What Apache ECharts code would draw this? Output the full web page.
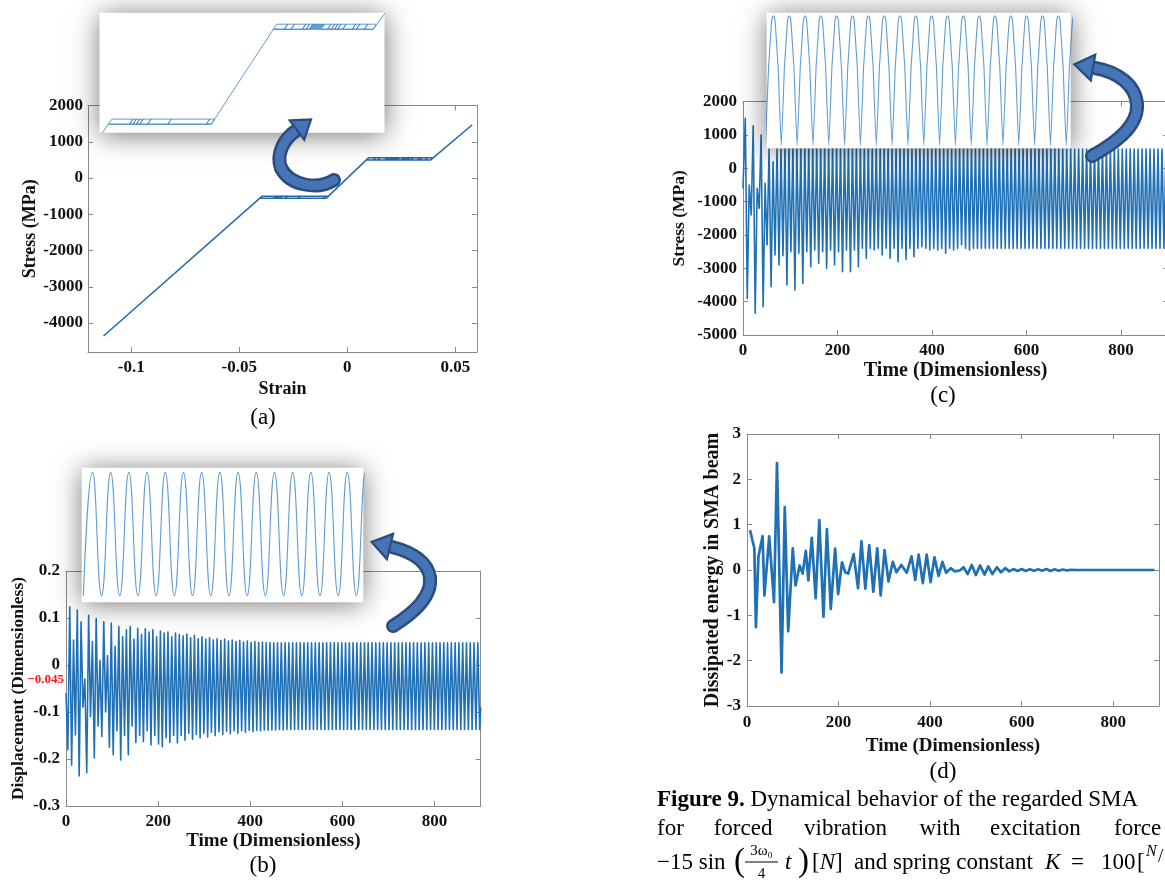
<!DOCTYPE html>
<html>
<head>
<meta charset="utf-8">
<title>Figure 9</title>
<script src="https://cdn.jsdelivr.net/npm/echarts@6/dist/echarts.min.js"></script>
<style>
  html, body { margin: 0; padding: 0; background: #fff; }
  #chart { width: 1165px; height: 881px; }
</style>
</head>
<body>
<div id="chart"></div>
<script>
// ---------------- (a) stress–strain hysteresis ----------------
const loadingStart = [-0.1128, -4360];
const loadingEnd = [0.0578, 1470];
const lowerPlateauStress = [-556, -500];      // forward / reverse transformation levels (compression)
const upperPlateauStress = [500, 556];        // reverse / forward transformation levels (tension)
const lowerPlateauStrain = [-0.0404, -0.0097];
const upperPlateauStrain = [0.0088, 0.0386];
const plateauShift = 0.0010;                  // strain offset between the two plateau levels
const lowerLoopStrain = [-0.0341, -0.0331, -0.0321, -0.0311, -0.0287, -0.0227, -0.0112];
const upperLoopStrain = [0.0121, 0.0141, 0.0175, 0.0186, 0.0196, 0.0201, 0.0206, 0.0211, 0.0216,
  0.0221, 0.0226, 0.0231, 0.0250, 0.0261, 0.0271, 0.0280, 0.0295, 0.0324, 0.0336, 0.0360];
const strainTicks = [-0.1, -0.05, 0, 0.05];
const stressTicksA = [-4000, -3000, -2000, -1000, 0, 1000, 2000];

// ---------------- (b) displacement history ----------------
const dispStart = [0, -0.06];
const dispEnd = [900, -0.09];
const dispFirstTrough = 4.0;
const dispFirstPeak = 8.1;
const dispPeriod = 8.2;
const dispTroughs = [
  -0.180, -0.213, -0.149, -0.236, -0.090, -0.229, -0.110, -0.198, -0.130, -0.152,
  -0.100, -0.175, -0.191, -0.140, -0.202, -0.150, -0.191, -0.130, -0.165, -0.150,
  -0.163, -0.140, -0.170, -0.150, -0.168, -0.174, -0.155, -0.165, -0.150, -0.166,
  -0.150, -0.160, -0.145, -0.158, -0.148, -0.155, -0.145, -0.153, -0.143, -0.150,
  -0.142, -0.148, -0.141, -0.146, -0.140, -0.145, -0.140, -0.143, -0.139, -0.142,
  -0.139, -0.140, -0.138, -0.139, -0.138, -0.138, -0.137, -0.138, -0.137, -0.137,
  -0.137, -0.137, -0.137, -0.137, -0.137, -0.137, -0.137, -0.137, -0.137, -0.137,
  -0.137, -0.137, -0.137, -0.137, -0.137, -0.137, -0.137, -0.137, -0.137, -0.137,
  -0.137, -0.137, -0.137, -0.137, -0.137, -0.137, -0.137, -0.137, -0.137, -0.137,
  -0.137, -0.137, -0.137, -0.137, -0.137, -0.137, -0.137, -0.137, -0.137, -0.137,
  -0.137, -0.137, -0.137, -0.137, -0.137, -0.137, -0.137, -0.137, -0.137, -0.137
];
const dispPeaks = [
  0.124, 0.053, 0.117, 0.092, -0.030, 0.106, 0.050, 0.099, 0.010, 0.092,
  0.020, 0.089, 0.040, 0.082, 0.060, 0.075, 0.082, 0.055, 0.078, 0.065,
  0.077, 0.070, 0.075, 0.060, 0.072, 0.068, 0.070, 0.060, 0.068, 0.065,
  0.062, 0.066, 0.058, 0.063, 0.056, 0.060, 0.055, 0.058, 0.053, 0.056,
  0.052, 0.055, 0.051, 0.053, 0.050, 0.052, 0.049, 0.051, 0.048, 0.050,
  0.048, 0.049, 0.047, 0.048, 0.047, 0.047, 0.047, 0.047, 0.047, 0.047,
  0.047, 0.047, 0.047, 0.047, 0.047, 0.047, 0.047, 0.047, 0.047, 0.047,
  0.047, 0.047, 0.047, 0.047, 0.047, 0.047, 0.047, 0.047, 0.047, 0.047,
  0.047, 0.047, 0.047, 0.047, 0.047, 0.047, 0.047, 0.047, 0.047, 0.047,
  0.047, 0.047, 0.047, 0.047, 0.047, 0.047, 0.047, 0.047, 0.047, 0.047,
  0.047, 0.047, 0.047, 0.047, 0.047, 0.047, 0.047, 0.047, 0.047
];
const dispMeanLevel = -0.045;
const dispTicks = [-0.3, -0.2, -0.1, 0, 0.1, 0.2];
// zoomed steady-state window (one entry per half cycle)
const insetDispTroughs = [-0.137, -0.137, -0.137, -0.137, -0.137, -0.137, -0.137, -0.137,
  -0.137, -0.137, -0.137, -0.137, -0.137, -0.137, -0.137, -0.137, -0.137];
const insetDispPeaks = [0.047, 0.047, 0.047, 0.047, 0.047, 0.047, 0.047, 0.047,
  0.047, 0.047, 0.047, 0.047, 0.047, 0.047, 0.047, 0.047];

// ---------------- (c) stress history ----------------
const stressStart = [0, -600];
const stressFirstPeak = 4.8;
const stressFirstTrough = 9.0;
const stressPeriod = 8.4;
const stressPeaks = [
  1500, -500, 1280, -600, 1000, -450, 580, 200, 580, 580,
  580, 580, 580, 580, 580, 580, 580, 580, 580, 580,
  580, 580, 580, 580, 580, 580, 580, 580, 580, 580,
  580, 580, 580, 580, 580, 580, 580, 580, 580, 580,
  580, 580, 580, 580, 580, 580, 580, 580, 580, 580,
  580, 580, 580, 580, 580, 580, 580, 580, 580, 580,
  580, 580, 580, 580, 580, 580, 580, 580, 580, 580,
  580, 580, 580, 580, 580, 580, 580, 580, 580, 580,
  580, 580, 580, 580, 580, 580, 580, 580, 580, 580,
  580, 580, 580, 580, 580, 580, 580, 580, 580, 580,
  580, 580, 580, 580, 580, 580, 580
];
const stressTroughs = [
  -3900, -1400, -4350, -1200, -4150, -2300, -3550, -2600, -2900, -2620,
  -3500, -2500, -3650, -2550, -3450, -2500, -2950, -2450, -2850, -2500,
  -3000, -2450, -2900, -2500, -3100, -2450, -3100, -2450, -2950, -2400,
  -2700, -2400, -2450, -2400, -2600, -2400, -2700, -2400, -2800, -2400,
  -2730, -2400, -2650, -2400, -2350, -2400, -2450, -2400, -2450, -2400,
  -2550, -2400, -2450, -2400, -2300, -2400, -2450, -2400, -2400, -2400,
  -2400, -2400, -2400, -2400, -2400, -2400, -2400, -2400, -2400, -2400,
  -2400, -2400, -2400, -2400, -2400, -2400, -2400, -2400, -2400, -2400,
  -2400, -2400, -2400, -2400, -2400, -2400, -2400, -2400, -2400, -2400,
  -2400, -2400, -2400, -2400, -2400, -2400, -2400, -2400, -2400, -2400,
  -2400, -2400, -2400, -2400, -2400, -2400, -2400
];
const stressTicksC = [-5000, -4000, -3000, -2000, -1000, 0, 1000, 2000];
// one steady-state stress cycle (phase within the cycle, stress) for the zoomed window
const stressCyclePhase = [0, 0.20, 0.23, 0.38, 0.45, 0.50, 0.55, 0.62, 0.77, 0.80];
const stressCycleValue = [-2400, -580, -430, 420, 575, 585, 575, 420, -430, -580];
const stressInsetCycles = 20;

// ---------------- (d) dissipated energy ----------------
const energyTime = [6.5, 16, 19.5, 25, 34, 38, 48.5, 59, 65.5, 75.5, 82.5, 90, 100, 106, 115, 121.5,
  128.5, 134, 141.5, 150, 158, 167, 174.5, 183, 192.5, 199, 207.5, 214.5, 221, 233, 242.5, 250,
  258.5, 267, 276, 284.5, 292, 300.5, 309, 318.5, 326.5, 337, 349, 359.5, 367.5, 375, 384, 392.5,
  401, 409.5, 418.5, 427, 435, 445, 454, 465, 473, 482, 491, 500, 509, 519, 527, 536, 546, 555,
  564, 573, 582, 591, 600, 609, 618, 627, 636, 645, 654, 663, 672, 681, 690, 699, 708, 720, 890];
const energyValue = [0.88, 0.48, -1.26, 0.30, 0.75, -0.56, 0.74, -0.71, 2.36, -2.26, 1.39, -1.35,
  0.48, -0.34, 0.10, -0.08, 0.42, -0.23, 0.71, -0.62, 1.10, -1.03, 0.90, -0.86, 0.47, -0.53, 0.17,
  -0.05, -0.08, 0.35, -0.40, 0.63, -0.41, 0.55, -0.48, 0.48, -0.56, 0.44, -0.25, 0.18, -0.05, 0.11,
  -0.06, 0.30, -0.22, 0.34, -0.29, 0.34, -0.27, 0.28, -0.13, 0.18, -0.06, 0.04, -0.03, -0.01, 0.06,
  -0.09, 0.11, -0.11, 0.10, -0.10, 0.08, -0.09, 0.06, -0.05, 0.04, -0.03, 0.02, -0.02, 0.02, -0.02,
  0.015, -0.015, 0.015, -0.015, 0.02, -0.02, 0.015, -0.015, 0.01, -0.01, 0.005, 0, 0];
const energyTicks = [-3, -2, -1, 0, 1, 2, 3];
const timeTicks = [0, 200, 400, 600, 800];

// ---------------- styling ----------------
const SERIF = '"Liberation Serif", "Times New Roman", "DejaVu Serif", serif';
const INK = '#111111';
const FRAME = '#8a8a8a';
const BLUE = '#1f70b5';
const INSET_BLUE = 'rgba(36,118,196,0.72)';
const TICK_FONT = 17;

// ---------------- series builders ----------------
function buildLoop() {
  const [lb, lt] = lowerPlateauStress, [ub, ut] = upperPlateauStress;
  const [l0, l1] = lowerPlateauStrain, [u0, u1] = upperPlateauStrain;
  const p = [loadingStart, [l0 + plateauShift, lt], [l1 + plateauShift, lt], [l1, lb], [l0, lb]];
  lowerLoopStrain.forEach(s => p.push([s, lb], [s + plateauShift, lt], [s, lb]));
  p.push([l1, lb], [u0, ub], [u0 + plateauShift, ut], [u1 + plateauShift, ut], [u1, ub], [u0, ub]);
  upperLoopStrain.forEach(s => p.push([s, ub], [s + plateauShift, ut], [s, ub]));
  p.push([u1, ub], loadingEnd);
  return p;
}
function buildDisplacement() {
  const d = [dispStart];
  for (let k = 0; k < dispTroughs.length; k++) {
    d.push([dispFirstTrough + k * dispPeriod, dispTroughs[k]]);
    if (k < dispPeaks.length) d.push([dispFirstPeak + k * dispPeriod, dispPeaks[k]]);
  }
  d.push(dispEnd);
  return d;
}
function buildDisplacementInset() {
  const d = [];
  for (let k = 0; k < insetDispTroughs.length; k++) {
    d.push([k, insetDispTroughs[k]]);
    if (k < insetDispPeaks.length) d.push([k + 0.5, insetDispPeaks[k]]);
  }
  return d;
}
function buildStress() {
  const d = [stressStart];
  for (let k = 0; k < stressPeaks.length; k++) {
    d.push([stressFirstPeak + k * stressPeriod, stressPeaks[k]]);
    if (k < stressTroughs.length) d.push([stressFirstTrough + k * stressPeriod, stressTroughs[k]]);
  }
  return d;
}
function buildStressInset() {
  const d = [];
  for (let k = 0; k < stressInsetCycles; k++) {
    stressCyclePhase.forEach((ph, i) => d.push([k + ph, stressCycleValue[i]]));
  }
  d.push([stressInsetCycles, stressCycleValue[0]]);
  return d;
}
function buildEnergy() {
  return energyTime.map((t, i) => [t, energyValue[i]]);
}

// ---------------- axes / grids ----------------
const grids = [], xAxes = [], yAxes = [];
const plain = v => String(v);

function addPanel(box, xs, ys) {
  const gi = grids.length;
  grids.push(Object.assign({ containLabel: false, outerBoundsMode: 'none', z: 0 }, box));
  const common = {
    gridIndex: gi, type: 'value', splitLine: { show: false },
    axisLine: { onZero: false, lineStyle: { color: FRAME, width: 1 } }
  };
  const tickStyle = ticks => ({ inside: true, length: 5, lineStyle: { color: FRAME }, customValues: ticks });
  const labelStyle = (ticks, margin) => ({
    customValues: ticks, margin, formatter: plain, color: INK,
    fontFamily: SERIF, fontWeight: 'bold', fontSize: TICK_FONT
  });
  const nameStyle = size => ({ color: INK, fontFamily: SERIF, fontWeight: 'bold', fontSize: size });
  const xi = xAxes.length;
  xAxes.push(Object.assign({}, common, {
    position: 'bottom', min: xs.range[0], max: xs.range[1],
    axisTick: tickStyle(xs.ticks), axisLabel: labelStyle(xs.ticks, xs.margin),
    name: xs.name, nameLocation: 'middle', nameGap: xs.gap, nameTextStyle: nameStyle(xs.size)
  }));
  xAxes.push(Object.assign({}, common, {
    position: 'top', min: xs.range[0], max: xs.range[1],
    axisTick: tickStyle(xs.ticks), axisLabel: { show: false }
  }));
  const yi = yAxes.length;
  yAxes.push(Object.assign({}, common, {
    position: 'left', min: ys.range[0], max: ys.range[1],
    axisTick: tickStyle(ys.ticks), axisLabel: labelStyle(ys.ticks, ys.margin),
    name: ys.name, nameLocation: 'middle', nameGap: ys.gap, nameTextStyle: nameStyle(ys.size)
  }));
  yAxes.push(Object.assign({}, common, {
    position: 'right', min: ys.range[0], max: ys.range[1],
    axisTick: tickStyle(ys.ticks), axisLabel: { show: false }
  }));
  return { gi, xi, yi };
}

function addInset(box, xr, yr) {
  const gi = grids.length;
  grids.push(Object.assign({
    containLabel: false, outerBoundsMode: 'none', show: true, z: 8,
    backgroundColor: '#ffffff', borderWidth: 0,
    shadowBlur: 26, shadowColor: 'rgba(0,0,0,0.55)', shadowOffsetX: 0, shadowOffsetY: 2
  }, box));
  const xi = xAxes.length;
  xAxes.push({ gridIndex: gi, type: 'value', show: false, min: xr[0], max: xr[1] });
  const yi = yAxes.length;
  yAxes.push({ gridIndex: gi, type: 'value', show: false, min: yr[0], max: yr[1] });
  return { gi, xi, yi };
}

const pA = addPanel({ left: 88, top: 105.5, width: 389, height: 246.5 },
  { range: [-0.12, 0.06], ticks: strainTicks, name: 'Strain', gap: 28, size: 18, margin: 7 },
  { range: [-4800, 2000], ticks: stressTicksA, name: 'Stress (MPa)', gap: 48, size: 18, margin: 5 });
const pB = addPanel({ left: 66, top: 571, width: 414.7, height: 235 },
  { range: [0, 900], ticks: timeTicks, name: 'Time (Dimensionless)', gap: 26, size: 19, margin: 7 },
  { range: [-0.3, 0.2], ticks: dispTicks, name: 'Displacement (Dimensionless)', gap: 39, size: 17.5, margin: 6 });
const pC = addPanel({ left: 743, top: 101.7, width: 425.2, height: 233.3 },
  { range: [0, 900], ticks: timeTicks, name: 'Time (Dimensionless)', gap: 26, size: 20, margin: 7 },
  { range: [-5000, 2000], ticks: stressTicksC, name: 'Stress (MPa)', gap: 55, size: 17.5, margin: 6 });
const pD = addPanel({ left: 747, top: 434, width: 412, height: 272 },
  { range: [0, 900], ticks: timeTicks, name: 'Time (Dimensionless)', gap: 31, size: 19, margin: 8 },
  { range: [-3, 3], ticks: energyTicks, name: 'Dissipated energy in SMA beam', gap: 24, size: 20, margin: 6 });

// reference level of the steady displacement oscillation
yAxes.push({
  gridIndex: pB.gi, type: 'value', position: 'left', min: -0.3, max: 0.2,
  axisLine: { show: false }, axisTick: { show: false }, splitLine: { show: false },
  axisLabel: {
    customValues: [dispMeanLevel], margin: 1,
    formatter: v => v.toFixed(3).replace('-', '\u2212'),
    color: '#ff1a1a', fontFamily: SERIF, fontWeight: 'bold', fontSize: 13,
    backgroundColor: '#ffffff', padding: [1, 1, 0, 1], verticalAlign: 'bottom'
  }
});

const iA = addInset({ left: 99.5, top: 12.7, width: 285, height: 120 }, [-0.0431, 0.0420], [-651, 684]);
const iB = addInset({ left: 81.7, top: 467.7, width: 281.6, height: 134.6 }, [-0.09, 15.38], [-0.1468, 0.0539]);
const iC = addInset({ left: 766.7, top: 12.7, width: 304, height: 135.6 }, [0.08, 19.28], [-2465, 661]);

function lineSeries(ax, data, color, width, extra) {
  return Object.assign({
    type: 'line', xAxisIndex: ax.xi, yAxisIndex: ax.yi, data,
    showSymbol: false, symbol: 'none', clip: true, animation: false,
    lineStyle: { color, width, join: 'round' }, emphasis: { disabled: true }, silent: true
  }, extra || {});
}

const loop = buildLoop();
const series = [
  lineSeries(pA, loop, '#2769a6', 1.5),
  lineSeries(pB, buildDisplacement(), BLUE, 1.6),
  lineSeries(pC, buildStress(), BLUE, 1.6),
  lineSeries(pD, buildEnergy(), BLUE, 2.7),
  lineSeries(iA, loop, INSET_BLUE, 1.0, { z: 9 }),
  lineSeries(iB, buildDisplacementInset(), INSET_BLUE, 1.1, { z: 9, smooth: true }),
  lineSeries(iC, buildStressInset(), INSET_BLUE, 1.1, { z: 9, smooth: 0.15 })
];

// ---------------- annotations: curved arrows, panel tags, caption ----------------
// each arrow body is two cubic segments: [x1,y1, c1x,c1y, c2x,c2y, x2,y2]
function arrow(segments, head) {
  const els = [];
  const seg = (s, stroke, width, z) => ({
    type: 'bezierCurve', z,
    shape: { x1: s[0], y1: s[1], cpx1: s[2], cpy1: s[3], cpx2: s[4], cpy2: s[5], x2: s[6], y2: s[7] },
    style: { fill: null, stroke, lineWidth: width, lineCap: 'round' }
  });
  segments.forEach(s => els.push(seg(s, '#2b4c7e', 14, 20)));
  segments.forEach(s => els.push(seg(s, '#4575b6', 9, 21)));
  els.push({ type: 'polygon', shape: { points: head }, z: 22,
    style: { fill: '#4575b6', stroke: '#2b4c7e', lineWidth: 2.2, lineJoin: 'miter' } });
  return els;
}
function txt(x, y, text, opts) {
  const o = opts || {};
  return {
    type: 'text', x, y, z: 30,
    style: Object.assign({
      text, fill: '#000', fontFamily: SERIF, fontSize: o.size || 23,
      fontWeight: o.weight || 'normal', fontStyle: o.style || 'normal',
      align: o.align || 'left', verticalAlign: 'middle'
    }, o.rich ? { rich: o.rich } : {})
  };
}

const graphics = [].concat(
  arrow([[334, 180, 318, 190, 290, 186, 281, 168], [281, 168, 276, 155, 283, 139, 297, 130]],
    [[289.8, 120.4], [311.0, 119.5], [304.2, 139.6]]),
  arrow([[393, 626, 412, 614, 432, 598, 430, 578], [430, 578, 428, 562, 412, 552, 392, 547]],
    [[393.1, 533.9], [371.6, 541.9], [386.9, 559.1]]),
  arrow([[1092, 156, 1112, 145, 1138, 128, 1137, 105], [1137, 105, 1136, 85, 1118, 72, 1095, 68]],
    [[1095.2, 54.8], [1074.3, 64.4], [1090.8, 80.4]]),
  [
    txt(263, 418, '(a)', { align: 'center' }),
    txt(263, 866, '(b)', { align: 'center' }),
    txt(943, 396, '(c)', { align: 'center' }),
    txt(943, 772, '(d)', { align: 'center' }),
    // caption
    txt(657, 800, '{b|Figure 9.} Dynamical behavior of the regarded SMA',
      { rich: { b: { fontWeight: 'bold', fontFamily: SERIF, fontSize: 23 } } }),
    txt(657, 829, 'for'),
    txt(713.7, 829, 'forced'),
    txt(804, 829, 'vibration'),
    txt(919.5, 829, 'with'),
    txt(990, 829, 'excitation'),
    txt(1114, 829, 'force'),
    txt(657, 863, '\u221215 sin'),
    txt(734, 862, '(', { size: 33 }),
    txt(761.5, 851, '3\u03c9\u2080', { size: 15, align: 'center' }),
    { type: 'line', z: 30, shape: { x1: 745, y1: 862, x2: 778, y2: 862 }, style: { stroke: '#000', lineWidth: 1 } },
    txt(761.5, 874, '4', { size: 15, align: 'center' }),
    txt(785, 863, 't', { style: 'italic' }),
    txt(798, 862, ')', { size: 33 }),
    txt(812, 863, '[{i|N}]', { rich: { i: { fontStyle: 'italic', fontFamily: SERIF, fontSize: 23 } } }),
    txt(854, 863, 'and spring constant'),
    txt(1045, 863, 'K', { style: 'italic' }),
    txt(1071, 863, '='),
    txt(1101, 863, '100'),
    txt(1137, 863, '['),
    txt(1146, 852, 'N', { size: 16, style: 'italic' }),
    txt(1158, 857, '/', { size: 19 })
  ]
);

const chart = echarts.init(document.getElementById('chart'), null, { renderer: 'canvas' });
chart.setOption({
  backgroundColor: '#ffffff',
  animation: false,
  grid: grids,
  xAxis: xAxes,
  yAxis: yAxes,
  series,
  graphic: { elements: graphics }
});
</script>
</body>
</html>
